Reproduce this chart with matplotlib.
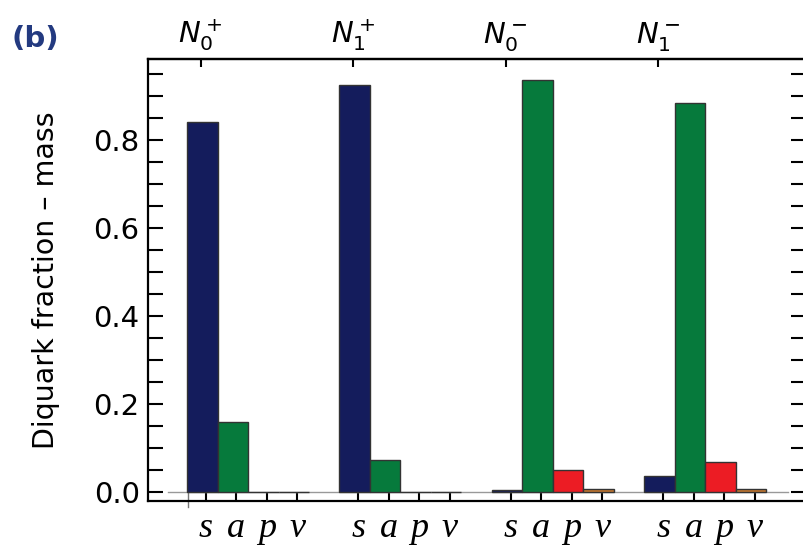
import numpy as np
import matplotlib
matplotlib.use("Agg")
from matplotlib import pyplot as plt
from matplotlib.ticker import MultipleLocator

## states along the top, diquark channels along the bottom
states = [r'$N_0^+$', r'$N_1^+$', r'$N_0^-$', r'$N_1^-$']
channels = ['s', 'a', 'p', 'v']

## diquark fractions (one list per channel, one entry per state)
frac_s = [0.839, 0.923, 0.006, 0.037]
frac_a = [0.160, 0.073, 0.936, 0.883]
frac_p = [0.000, 0.000, 0.050, 0.068]
frac_v = [0.000, 0.000, 0.007, 0.008]

colours = ['#141c5c', '#067a3c', '#ec1c24', '#c57830']

fig = plt.figure(figsize=(8.04, 5.46), dpi=100)
ax = fig.add_axes([148/804, 45/546, (806-148)/804, (501-59)/546])

group_gap = 5   # 4 bars + 1 empty slot per state
series = [frac_s, frac_a, frac_p, frac_v]
for k, vals in enumerate(series):
    xs = np.arange(len(states))*group_gap + k + 0.5
    ax.bar(xs, vals, width=1.0, color=colours[k], edgecolor='#333333', linewidth=1.0, zorder=3)

# thin zero line and the little origin tick that pokes through the frame
ax.axhline(0, xmin=(-0.62+1.28)/(20.3+1.28), xmax=(19.7+1.28)/(20.3+1.28), color='#999999', lw=1.0, zorder=2)
ax.plot([0.03, 0.03], [0, -0.034], color='#777777', lw=1.0, clip_on=False, zorder=2)

ax.set_xlim(-1.28, 20.3)
ax.set_ylim(-0.0197, 0.983)

# y axis: labels on the left, ticks on both sides
ax.yaxis.set_major_locator(MultipleLocator(0.2))
ax.yaxis.set_minor_locator(MultipleLocator(0.05))
ax.yaxis.set_major_formatter(plt.FuncFormatter(lambda v, p: '%.1f' % v))
ax.tick_params(axis='y', which='both', direction='in', length=11, width=1.5,
               left=True, right=True, labelsize=21, pad=6)
ax.set_ylabel('Diquark fraction \u2013 mass', fontsize=20.5, labelpad=24)

# bottom ticks: channel letters under each bar
bot_pos = [g*group_gap + k + 0.62 for g in range(len(states)) for k in range(len(channels))]
ax.set_xticks(bot_pos)
ax.set_xticklabels(channels*len(states), fontsize=26, fontstyle='italic', family='Liberation Serif')
ax.tick_params(axis='x', which='major', direction='in', length=5.5, width=1.5, top=False, pad=8)

# top ticks: the states
top = ax.secondary_xaxis('top')
top.set_xticks([g*group_gap + 0.45 for g in range(len(states))])
top.set_xticklabels(states, fontsize=21)
top.tick_params(direction='in', length=5.5, width=1.5, pad=4)
top.spines['top'].set_linewidth(1.6)

for s in ax.spines.values():
    s.set_linewidth(1.6)

fig.text(0.014, 0.914, '(b)', fontsize=21, fontweight='semibold', color='#233a80')

fig.savefig('out.png', dpi=100)
